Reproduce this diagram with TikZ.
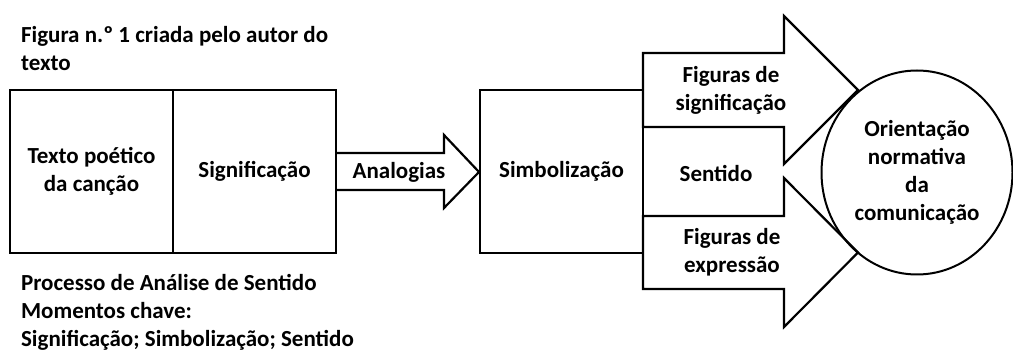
\documentclass[tikz,border=0pt]{standalone}
\usepackage{fontspec}
\setmainfont{Carlito}
\usetikzlibrary{positioning,shapes.geometric}

\tikzset{
  txt/.style={font=\bfseries\fontsize{23}{28}\selectfont, inner sep=0pt},
  stage/.style={txt, draw, align=center, outer sep=0pt,
    minimum width=163pt, minimum height=163pt},
  blockarrow/.style={draw, line join=miter},
}

\begin{document}
\begin{tikzpicture}[x=1pt, y=-1pt, line width=2.2pt]
        \useasboundingbox (0,0) rectangle (1013,352);

        % blocos
        \node[stage] (texto) at (91.5,171.5) {Texto poético\\da canção};
        \node[stage, right=0pt of texto] (signif) {Significação};
        \node[stage, right=144pt of signif] (simbol) {Simbolização};

        % setas
        \draw[blockarrow] (336,153) -- (444,153) -- (444,135) -- (479,172)
          -- (444,208) -- (444,190) -- (336,190);
        \draw[blockarrow] (643,53) -- (784,53) -- (784,16) -- (858,90)
          -- (784,164) -- (784,127) -- (643,127) -- cycle;
        \draw[blockarrow] (643,216) -- (784,216) -- (784,178) -- (858,252.5)
          -- (784,327) -- (784,289) -- (643,289) -- cycle;

        \node[txt] (analog) at (399,172) {Analogias};
        \node[txt, align=center] (figsig) at (731,90) {Figuras de\\significação};
        \node[txt] (sentido) at (716,174) {Sentido};
        \node[txt, align=center] (figexp) at (732,252) {Figuras de\\expressão};

        \node[txt, draw, ellipse, align=center, line width=2pt,
          minimum width=191pt, minimum height=204pt] (orient) at (917,172.5)
          {Orientação\\normativa\\da\\comunicação};

        % legendas (base = ultima linha)
        \node[txt, anchor=base west, align=left] (titulo) at (20,71)
          {Figura n.º 1 criada pelo autor do\\texto};
        \node[txt, anchor=base west, align=left] (notas) at (20,346.5)
          {Processo de Análise de Sentido\\Momentos chave:\\Significação; Simbolização; Sentido};
\end{tikzpicture}
\end{document}
